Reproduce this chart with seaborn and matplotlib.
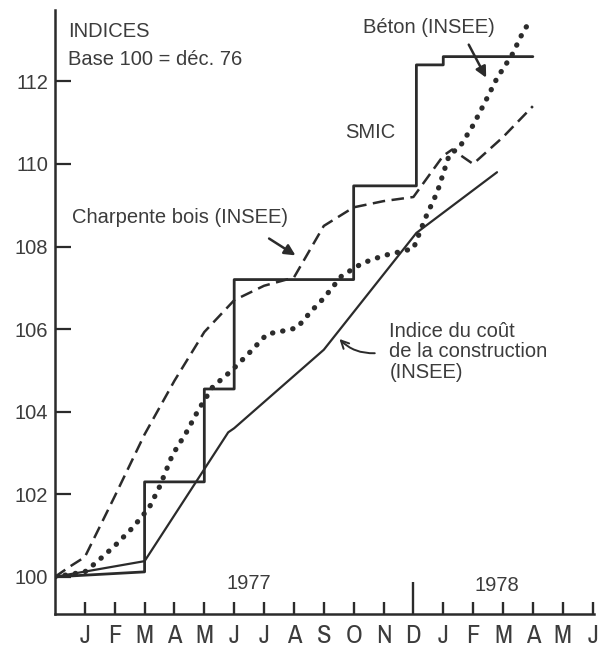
import matplotlib
matplotlib.use("Agg")
import matplotlib.pyplot as plt
from matplotlib import font_manager
import seaborn as sns

# months counted from dec. 76 (0) to june 78 (18)
month_labels = ["J", "F", "M", "A", "M", "J", "J", "A", "S", "O", "N", "D",
                "J", "F", "M", "A", "M", "J"]

# SMIC (step line)
smic_m = [0, 3, 3, 5, 5, 6, 6, 10, 10, 12.1, 12.1, 13, 13, 16]
smic_v = [100, 100.12, 102.3, 102.3, 104.55, 104.55, 107.2, 107.2,
          109.47, 109.47, 112.4, 112.4, 112.6, 112.6]

# Indice du coût de la construction (quarterly)
icc_m = [0, 3, 5.8, 6, 9, 12.1, 14.8]
icc_v = [100, 100.38, 103.5, 103.6, 105.5, 108.33, 109.8]

# Charpente bois (dashed)
bois_m = [0, 0.5, 1, 2, 3, 4, 5, 6, 7, 8, 9, 10, 11, 12, 13, 13.3, 14, 15, 16]
bois_v = [100, 100.25, 100.48, 101.95, 103.45, 104.75, 105.93, 106.7, 107.05,
          107.25, 108.5, 108.95, 109.1, 109.2, 110.2, 110.35, 110.0, 110.65, 111.4]

# Béton (dotted)
beton_m = [0, 1, 1.4, 2, 2.6, 3.15, 3.5, 3.93, 4.4, 4.8, 5.28, 5.92, 6.5, 7.1,
           7.6, 8.1, 8.6, 9, 9.6, 10.3, 11, 12, 12.4, 12.8, 13.2, 13.55, 14,
           14.4, 14.8, 15.3, 15.7, 15.95]
beton_v = [100, 100.12, 100.36, 100.75, 101.19, 101.67, 102.18, 102.95, 103.5,
           104.04, 104.6, 105.0, 105.42, 105.88, 105.95, 106.03, 106.45, 106.75,
           107.29, 107.6, 107.78, 107.95, 108.69, 109.32, 110.22, 110.41, 110.94,
           111.5, 112.08, 112.64, 113.24, 113.49]

sns.set_theme(style="white")
plt.rcParams["font.family"] = ["Liberation Sans", "DejaVu Sans"]

# a narrow face for the month letters if one is around
narrow_names = sorted({f.name for f in font_manager.fontManager.ttflist
                       if "Narrow" in f.name or "Condensed" in f.name})
month_font = dict(family=narrow_names[0]) if narrow_names else dict(family="DejaVu Sans", stretch="condensed")

ink = "#2b2b2b"
txt = "#3c3c3c"

fig = plt.figure(figsize=(5.99, 6.52), dpi=100)
ax = fig.add_axes([0.0918, 0.0583, 0.9, 0.9264])

sns.lineplot(x=smic_m, y=smic_v, ax=ax, estimator=None, sort=False,
             color=ink, linewidth=2.0)
sns.lineplot(x=icc_m, y=icc_v, ax=ax, estimator=None, sort=False,
             color=ink, linewidth=1.6)
sns.lineplot(x=bois_m, y=bois_v, ax=ax, estimator=None, sort=False,
             color=ink, linewidth=1.8, linestyle=(0, (5, 2.6)))
sns.lineplot(x=beton_m, y=beton_v, ax=ax, estimator=None, sort=False,
             color=ink, linewidth=3.8, linestyle=(0, (0.05, 1.9)),
             dash_capstyle="round")

ax.set_xlim(0, 18.05)
ax.set_ylim(99.1, 113.73)
ax.set_xticks(range(1, 19))
ax.set_xticklabels(month_labels, fontsize=19, color=txt, **month_font)
ax.set_yticks(range(100, 113, 2))
ax.set_yticklabels([str(v) for v in range(100, 113, 2)], fontsize=14.5, color=txt)
ax.tick_params(axis="x", bottom=True, direction="in", length=9, width=1.7,
               color=ink, pad=7)
ax.tick_params(axis="y", left=True, direction="in", length=11.5, width=1.6,
               color=ink, pad=5)
ax.xaxis.get_major_ticks()[11].tick1line.set_markersize(23)  # year boundary

for side in ["top", "right"]:
    ax.spines[side].set_visible(False)
for side in ["left", "bottom"]:
    ax.spines[side].set_linewidth(1.8)
    ax.spines[side].set_color(ink)
ax.set_xlabel("")
ax.set_ylabel("")

ax.text(0.43, 113.07, "INDICES", fontsize=14.5, color=txt)
ax.text(0.43, 112.4, "Base 100 = déc. 76", fontsize=14.5, color=txt)
ax.text(6.49, 99.85, "1977", fontsize=14.5, color=txt, ha="center", va="center")
ax.text(14.78, 99.8, "1978", fontsize=14.5, color=txt, ha="center", va="center")
ax.text(10.3, 113.17, "Béton (INSEE)", fontsize=14.5, color=txt)
ax.text(9.7, 110.63, "SMIC", fontsize=14.5, color=txt)
ax.text(0.57, 108.57, "Charpente bois (INSEE)", fontsize=14.5, color=txt)
ax.text(11.2, 106.18, "Indice du coût\nde la construction\n(INSEE)", fontsize=14.5,
        color=txt, va="top", linespacing=1.1)

ax.annotate("", xy=(14.48, 112.03), xytext=(13.81, 112.95),
            arrowprops=dict(arrowstyle="-|>", color=ink, lw=1.8, mutation_scale=16))
ax.annotate("", xy=(8.13, 107.75), xytext=(7.09, 108.23),
            arrowprops=dict(arrowstyle="-|>", color=ink, lw=1.8, mutation_scale=16))
ax.annotate("", xy=(9.46, 105.81), xytext=(10.8, 105.42),
            arrowprops=dict(arrowstyle="->", color=ink, lw=1.4, mutation_scale=14,
                            connectionstyle="arc3,rad=-0.25"))

fig.savefig("out.png", dpi=100, facecolor="white")
